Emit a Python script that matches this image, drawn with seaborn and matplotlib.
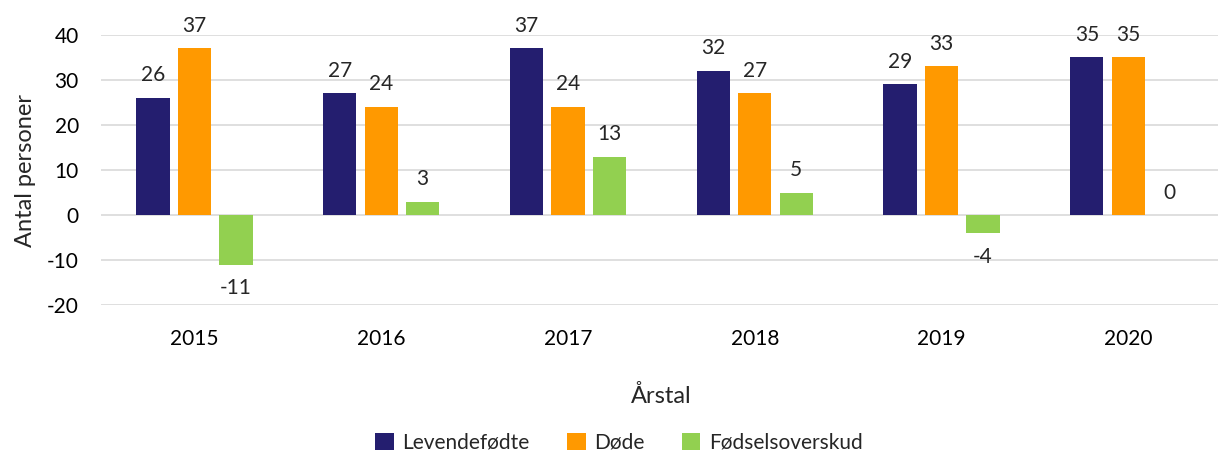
import matplotlib
matplotlib.use("Agg")
import matplotlib.pyplot as plt
import seaborn as sns
import pandas as pd

years = ["2015", "2016", "2017", "2018", "2019", "2020"]
levendefodte = [26, 27, 37, 32, 29, 35]
dode = [37, 24, 24, 27, 33, 35]
fodselsoverskud = [-11, 3, 13, 5, -4, 0]
series_names = ["Levendefødte", "Døde", "Fødselsoverskud"]
colors = ["#241E6F", "#FF9900", "#92D050"]

df = pd.DataFrame({
    "year": years * 3,
    "value": levendefodte + dode + fodselsoverskud,
    "serie": [series_names[0]] * 6 + [series_names[1]] * 6 + [series_names[2]] * 6,
})

sns.set_style("white")
plt.rcParams['font.family'] = ['Lato', 'DejaVu Sans']
plt.rcParams['axes.unicode_minus'] = False

fig = plt.figure(figsize=(12.18, 4.54), dpi=100)
ax = fig.add_axes([0.083, 0.328, 0.92, 0.595])

sns.barplot(data=df, x="year", y="value", hue="serie", palette=colors,
            width=0.666, gap=0.2, ax=ax, saturation=1, legend=True, linewidth=0)

ax.set_ylim(-20, 40)
ax.set_yticks(range(-20, 41, 10))
ax.yaxis.grid(True, color="#D9D9D9", linewidth=1.2)
ax.set_axisbelow(True)
for s in ax.spines.values():
    s.set_visible(False)
ax.tick_params(axis="both", length=0, labelsize=15, colors="black")
ax.tick_params(axis="y", pad=16)
ax.tick_params(axis="x", pad=17)

ax.set_ylabel("Antal personer", fontsize=17, labelpad=8)
ax.set_xlabel("Årstal", fontsize=17, labelpad=26)

# data labels
for cont in ax.containers:
    for bar in cont:
        v = bar.get_height()
        x = bar.get_x() + bar.get_width() / 2
        if v < 0:
            ax.annotate(f"{v:.0f}", (x, v), xytext=(0, -10), textcoords="offset points",
                        ha="center", va="top", fontsize=15, clip_on=False)
        else:
            ax.annotate(f"{v:.0f}", (x, v), xytext=(0, 9), textcoords="offset points",
                        ha="center", va="bottom", fontsize=15, clip_on=False)

sns.move_legend(ax, "center", bbox_to_anchor=(0.508, 0.025), bbox_transform=fig.transFigure,
                ncol=3, frameon=False, title=None, fontsize=15, handlelength=0.9,
                handleheight=0.9, columnspacing=1.8, handletextpad=0.4)

fig.savefig("out.png", dpi=100)
